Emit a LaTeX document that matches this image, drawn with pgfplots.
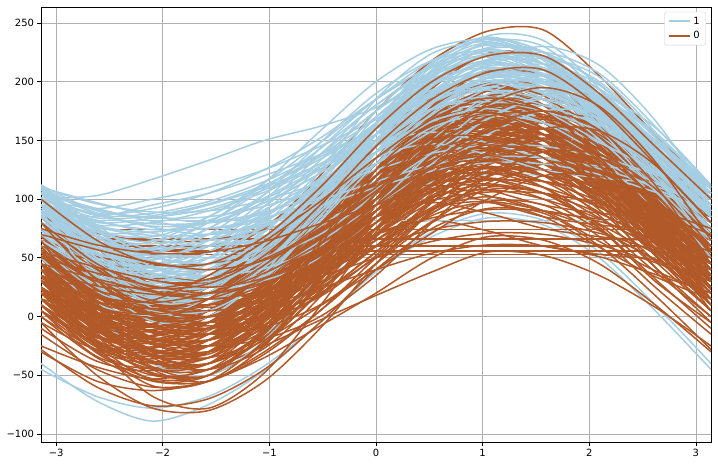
\documentclass[border=0pt]{standalone}
\usepackage{pgfplots}
\usepackage{pgfplotstable}
\pgfplotsset{compat=1.18}
\usepackage{fontspec}
\setmainfont{DejaVu Sans}
\definecolor{cblue}{HTML}{A6CEE3}
\definecolor{cbrown}{HTML}{B15928}
\definecolor{gridgray}{HTML}{B0B0B0}
\definecolor{lgray}{HTML}{CCCCCC}
\pgfplotsset{
 bl/.style={color=cblue, line width=1.5bp, smooth, forget plot},
 br/.style={color=cbrown, line width=1.5bp, smooth, forget plot},
}
% one row per curve: values at t = -pi, -5pi/6, ..., pi
\pgfplotstableread{
name p0 p1 p2 p3 p4 p5 p6 p7 p8 p9 p10 p11 p12
t -3.1416 -2.618 -2.094 -1.571 -1.047 -0.524 0 0.524 1.047 1.571 2.094 2.618 3.1416
b1 101 103 117 133 150 162 178 205 222 222 200 155 101
b2 90 49 27 30 57 101 150 191 213 210 183 139 90
b3 105 64 42 45 72 116 165 206 228 225 198 154 105
b4 95 58 32 30 57 102 145 172 178 170 153 128 95
b5 55 16 6 20 51 94 145 194 224 220 179 116 55
b6 85 53 31 25 43 87 145 195 217 205 169 125 85
b7 105 73 51 45 63 107 165 215 237 225 189 145 105
b8 85 49 43 60 86 111 135 163 189 200 182 137 85
b9 60 32 24 40 74 118 160 188 196 180 146 102 60
b10 80 52 44 60 94 138 180 208 216 200 166 122 80
b11 100 65 46 40 46 65 100 145 184 200 184 145 100
b12 75 40 20 20 47 100 165 218 238 220 175 122 75
b13 55 20 0 0 27 80 145 198 218 200 155 102 55
b14 100 43 0 -10 20 77 140 187 210 210 190 153 100
b15 -40 -72 -89 -75 -46 -5 40 72 88 82 55 10 -40
b16 -45 -68 -78 -68 -42 -5 38 68 84 78 50 5 -45
b17 15 -25 -45 -40 -15 25 75 115 135 130 100 55 15
b18 80 66 59 60 69 84 100 114 121 120 111 96 80
b19 100 68 37 30 57 102 140 152 143 130 123 118 100
b20 70 29 7 10 37 81 130 171 193 190 163 119 70
b21 75 38 12 10 37 82 125 152 158 150 133 108 75
b22 30 2 -6 10 44 88 130 158 166 150 116 72 30
b23 65 29 23 40 66 91 115 143 169 180 162 117 65
b24 70 31 21 35 66 109 160 209 239 235 194 131 70
b25 65 33 11 5 23 67 125 175 197 185 149 105 65
b26 110 88 77 80 97 122 150 172 183 180 163 138 110
b27 100 68 52 55 77 112 150 182 198 195 173 138 100
b28 60 38 42 55 67 82 110 152 188 195 163 108 60
b29 110 88 92 105 125 152 185 212 222 212 190 150 110
b30 100 92 100 110 125 145 168 192 207 205 183 142 100
b31 90 85 95 105 120 138 160 182 195 192 172 132 90
b32 40 -1 -23 -20 7 51 100 141 163 160 133 89 40
b33 60 3 -40 -50 -20 37 100 147 170 170 150 113 60
b34 80 39 17 20 47 91 140 181 203 200 173 129 80
b35 95 54 32 35 62 106 155 196 218 215 188 144 95
b36 85 48 22 20 47 92 135 162 168 160 143 118 85
b37 105 68 42 40 67 112 155 182 188 180 163 138 105
b38 65 26 16 30 61 104 155 204 234 230 189 126 65
b39 40 1 -9 5 36 79 130 179 209 205 164 101 40
b40 75 43 21 15 33 77 135 185 207 195 159 115 75
b41 95 63 41 35 53 97 155 205 227 215 179 135 95
b42 75 39 33 50 76 101 125 153 179 190 172 127 75
b43 100 64 58 75 101 126 150 178 204 215 197 152 100
b44 50 22 14 30 64 108 150 178 186 170 136 92 50
b45 70 42 34 50 84 128 170 198 206 190 156 112 70
b46 90 58 27 20 47 92 130 142 133 120 113 108 90
b47 110 78 47 40 67 112 150 162 153 140 133 128 110
b48 90 55 36 30 36 55 90 135 174 190 174 135 90
b49 110 75 56 50 56 75 110 155 194 210 194 155 110
b50 65 30 10 10 37 90 155 208 228 210 165 112 65
b51 75 48 42 50 67 92 125 162 188 190 163 118 75
b52 95 68 62 70 87 112 145 182 208 210 183 138 95
b53 110 59 17 10 47 111 170 201 203 190 173 149 110
b54 100 51 22 20 40 69 100 131 160 180 178 149 100
b55 112 63 34 32 52 81 112 143 172 192 190 161 112
b56 100 87 76 70 78 103 140 171 182 170 144 119 100
b57 110 97 86 80 88 113 150 181 192 180 154 129 110
b58 55 32 34 55 84 118 155 188 206 195 156 102 55
b59 75 52 54 75 104 138 175 208 226 215 176 122 75
b60 85 36 6 10 51 114 175 214 224 210 179 136 85
b61 100 86 79 80 89 104 120 134 141 140 131 116 100
b62 110 96 89 90 99 114 130 144 151 150 141 126 110
b63 100 39 6 10 44 91 140 183 216 230 214 167 100
b64 100 59 37 40 67 111 160 201 223 220 193 149 100
b65 87 46 24 27 54 98 147 188 210 207 180 136 87
b66 100 63 37 35 62 107 150 177 183 175 158 133 100
b67 110 73 47 45 72 117 160 187 193 185 168 143 110
b68 60 21 11 25 56 99 150 199 229 225 184 121 60
b69 50 11 1 15 46 89 140 189 219 215 174 111 50
b70 90 58 36 30 48 92 150 200 222 210 174 130 90
b71 100 68 46 40 58 102 160 210 232 220 184 140 100
b72 90 54 48 65 91 116 140 168 194 205 187 142 90
b73 110 74 68 85 111 136 160 188 214 225 207 162 110
b74 75 47 39 55 89 133 175 203 211 195 161 117 75
b75 90 62 54 70 104 148 190 218 226 210 176 132 90
b76 100 72 64 80 114 158 200 228 236 220 186 142 100
b77 95 60 41 35 41 60 95 140 179 195 179 140 95
b78 105 70 51 45 51 70 105 150 189 205 189 150 105
b79 70 35 15 15 42 95 160 213 233 215 170 117 70
b80 60 25 5 5 32 85 150 203 223 205 160 107 60
b81 85 58 52 60 77 102 135 172 198 200 173 128 85
b82 105 78 72 80 97 122 155 192 218 220 193 148 105
b83 108 59 30 28 48 77 108 139 168 188 186 157 108
b84 105 92 81 75 83 108 145 176 187 175 149 124 105
b85 95 82 71 65 73 98 135 166 177 165 139 114 95
b86 65 42 44 65 94 128 165 198 216 205 166 112 65
b87 85 62 64 85 114 148 185 218 236 225 186 132 85
b88 95 46 16 20 61 124 185 224 234 220 189 146 95
b89 90 76 69 70 79 94 110 124 131 130 121 106 90
b90 105 91 84 85 94 109 125 139 146 145 136 121 105
b91 90 29 -4 0 34 81 130 173 206 220 204 157 90
b92 100 49 7 0 37 101 160 191 193 180 163 139 100
b93 95 63 32 25 52 97 135 147 138 125 118 113 95
b94 105 73 42 35 62 107 145 157 148 135 128 123 105
b95 105 86 88 98 115 138 168 198 215 210 188 148 105
b96 95 80 84 95 110 130 155 182 200 200 180 138 95
b97 112 90 85 92 108 130 160 190 208 205 185 150 112
b98 88 72 72 82 100 125 155 185 203 200 175 130 88
b99 75 34 12 15 42 86 135 176 198 195 168 124 75
b100 90 53 27 25 52 97 140 167 173 165 148 123 90
b101 80 48 26 20 38 82 140 190 212 200 164 120 80
b102 65 37 29 45 79 123 165 193 201 185 151 107 65
b103 85 57 49 65 99 143 185 213 221 205 171 127 85
b104 90 63 57 65 82 107 140 177 203 205 178 133 90
b105 90 77 66 60 68 93 130 161 172 160 134 109 90
b106 80 57 59 80 109 143 180 213 231 220 181 127 80
b107 80 44 38 55 81 106 130 158 184 195 177 132 80
b108 85 50 31 25 31 50 85 130 169 185 169 130 85
b109 73 38 18 18 45 98 163 216 236 218 173 120 73
b110 95 81 74 75 84 99 115 129 136 135 126 111 95
b111 100 84 86 96 112 134 162 190 206 202 182 142 100
b112 92 78 80 90 106 128 155 183 200 198 176 134 92
b113 95 46 17 15 35 64 95 126 155 175 173 144 95
r1 10 -31 -53 -50 -23 21 70 111 133 130 103 59 10
r2 30 -11 -33 -30 -3 41 90 131 153 150 123 79 30
r3 50 9 -13 -10 17 61 110 151 173 170 143 99 50
r4 70 29 7 10 37 81 130 171 193 190 163 119 70
r5 35 -2 -28 -30 -3 42 85 112 118 110 93 68 35
r6 55 18 -8 -10 17 62 105 132 138 130 113 88 55
r7 75 38 12 10 37 82 125 152 158 150 133 108 75
r8 15 -22 -48 -50 -23 22 65 92 98 90 73 48 15
r9 5 -34 -44 -30 1 44 95 144 174 170 129 66 5
r10 30 -9 -19 -5 26 69 120 169 199 195 154 91 30
r11 25 -7 -29 -35 -17 27 85 135 157 145 109 65 25
r12 45 13 -9 -15 3 47 105 155 177 165 129 85 45
r13 35 -1 -7 10 36 61 85 113 139 150 132 87 35
r14 10 -26 -32 -15 11 36 60 88 114 125 107 62 10
r15 32 -25 -68 -78 -48 9 72 119 142 142 122 85 32
r16 55 -2 -45 -55 -25 32 95 142 165 165 145 108 55
r17 10 -18 -26 -10 24 68 110 138 146 130 96 52 10
r18 30 2 -6 10 44 88 130 158 166 150 116 72 30
r19 60 28 -3 -10 17 62 100 112 103 90 83 78 60
r20 30 -2 -33 -40 -13 32 70 82 73 60 53 48 30
r21 60 25 6 0 6 25 60 105 144 160 144 105 60
r22 35 0 -19 -25 -19 0 35 80 119 135 119 80 35
r23 25 -10 -30 -30 -3 50 115 168 188 170 125 72 25
r24 5 -30 -50 -50 -23 30 95 148 168 150 105 52 5
r25 110 75 55 55 75 120 175 218 243 244 205 155 110
r26 60 24 18 35 61 86 110 138 164 175 157 112 60
r27 65 33 11 5 23 67 125 175 197 185 149 105 65
r28 85 44 22 25 52 96 145 186 208 205 178 134 85
r29 -25 -43 -53 -45 -25 -3 18 38 55 52 35 8 -25
r30 -30 -55 -63 -55 -35 -8 20 50 68 65 45 10 -30
r31 -28 -60 -76 -70 -45 -5 40 75 92 88 60 18 -28
r32 -5 -50 -78 -80 -55 -10 45 90 110 105 75 30 -5
r33 95 58 32 30 57 102 145 172 178 170 153 128 95
r34 -10 -38 -46 -30 4 48 90 118 126 110 76 32 -10
r35 85 53 22 15 42 87 125 137 128 115 108 103 85
r36 55 16 6 20 51 94 145 194 224 220 179 116 55
r37 85 71 64 65 74 89 105 119 126 125 116 101 85
r38 90 68 57 60 77 102 130 152 163 160 143 118 90
r39 20 -21 -43 -40 -13 31 80 121 143 140 113 69 20
r40 40 -1 -23 -20 7 51 100 141 163 160 133 89 40
r41 60 19 -3 0 27 71 120 161 183 180 153 109 60
r42 25 -12 -38 -40 -13 32 75 102 108 100 83 58 25
r43 45 8 -18 -20 7 52 95 122 128 120 103 78 45
r44 65 28 2 0 27 72 115 142 148 140 123 98 65
r45 85 48 22 20 47 92 135 162 168 160 143 118 85
r46 15 -24 -34 -20 11 54 105 154 184 180 139 76 15
r47 40 1 -9 5 36 79 130 179 209 205 164 101 40
r48 15 -17 -39 -45 -27 17 75 125 147 135 99 55 15
r49 35 3 -19 -25 -7 37 95 145 167 155 119 75 35
r50 55 23 1 -5 13 57 115 165 187 175 139 95 55
r51 20 -16 -22 -5 21 46 70 98 124 135 117 72 20
r52 45 9 3 20 46 71 95 123 149 160 142 97 45
r53 15 -21 -27 -10 16 41 65 93 119 130 112 67 15
r54 65 8 -35 -45 -15 42 105 152 175 175 155 118 65
r55 0 -28 -36 -20 14 58 100 128 136 120 86 42 0
r56 20 -8 -16 0 34 78 120 148 156 140 106 62 20
r57 40 12 4 20 54 98 140 168 176 160 126 82 40
r58 45 13 -18 -25 2 47 85 97 88 75 68 63 45
r59 75 43 12 5 32 77 115 127 118 105 98 93 75
r60 45 10 -9 -15 -9 10 45 90 129 145 129 90 45
r61 75 40 21 15 21 40 75 120 159 175 159 120 75
r62 15 -20 -40 -40 -13 40 105 158 178 160 115 62 15
r63 35 0 -20 -20 7 60 125 178 198 180 135 82 35
r64 10 -17 -23 -15 2 27 60 97 123 125 98 53 10
r65 30 3 -3 5 22 47 80 117 143 145 118 73 30
r66 50 23 17 25 42 67 100 137 163 165 138 93 50
r67 65 38 32 40 57 82 115 152 178 180 153 108 65
r68 50 -1 -43 -50 -13 51 110 141 143 130 113 89 50
r69 70 19 -23 -30 7 71 130 161 163 150 133 109 70
r70 50 1 -28 -30 -10 19 50 81 110 130 128 99 50
r71 70 21 -8 -10 10 39 70 101 130 150 148 119 70
r72 90 41 12 10 30 59 90 121 150 170 168 139 90
r73 20 7 -4 -10 -2 23 60 91 102 90 64 39 20
r74 40 27 16 10 18 43 80 111 122 110 84 59 40
r75 60 47 36 30 38 63 100 131 142 130 104 79 60
r76 5 -18 -16 5 34 68 105 138 156 145 106 52 5
r77 25 2 4 25 54 88 125 158 176 165 126 72 25
r78 25 -24 -54 -50 -9 54 115 154 164 150 119 76 25
r79 45 -4 -34 -30 11 74 135 174 184 170 139 96 45
r80 30 16 9 10 19 34 50 64 71 70 61 46 30
r81 50 36 29 30 39 54 70 84 91 90 81 66 50
r82 65 51 44 45 54 69 85 99 106 105 96 81 65
r83 35 -26 -59 -55 -21 26 75 118 151 165 149 102 35
r84 55 -6 -39 -35 -1 46 95 138 171 185 169 122 55
r85 35 -6 -28 -25 2 46 95 136 158 155 128 84 35
r86 55 14 -8 -5 22 66 115 156 178 175 148 104 55
r87 75 34 12 15 42 86 135 176 198 195 168 124 75
r88 60 23 -3 -5 22 67 110 137 143 135 118 93 60
r89 80 43 17 15 42 87 130 157 163 155 138 113 80
r90 23 -16 -26 -12 19 62 113 162 192 188 147 84 23
r91 40 8 -14 -20 -2 42 100 150 172 160 124 80 40
r92 60 28 6 0 18 62 120 170 192 180 144 100 60
r93 30 -6 -12 5 31 56 80 108 134 145 127 82 30
r94 55 19 13 30 56 81 105 133 159 170 152 107 55
r95 45 17 9 25 59 103 145 173 181 165 131 87 45
r96 15 -13 -21 -5 29 73 115 143 151 135 101 57 15
r97 35 7 -1 15 49 93 135 163 171 155 121 77 35
r98 55 23 -8 -15 12 57 95 107 98 85 78 73 55
r99 90 58 27 20 47 92 130 142 133 120 113 108 90
r100 52 17 -2 -8 -2 17 52 97 136 152 136 97 52
r101 68 33 14 8 14 33 68 113 152 168 152 113 68
r102 23 -12 -32 -32 -5 48 113 166 186 168 123 70 23
r103 20 -7 -13 -5 12 37 70 107 133 135 108 63 20
r104 40 13 7 15 32 57 90 127 153 155 128 83 40
r105 57 30 24 32 49 74 107 144 170 172 145 100 57
r106 60 9 -33 -40 -3 61 120 151 153 140 123 99 60
r107 60 11 -18 -20 0 29 60 91 120 140 138 109 60
r108 80 31 2 0 20 49 80 111 140 160 158 129 80
r109 30 17 6 0 8 33 70 101 112 100 74 49 30
r110 50 37 26 20 28 53 90 121 132 120 94 69 50
r111 70 57 46 40 48 73 110 141 152 140 114 89 70
r112 15 -8 -6 15 44 78 115 148 166 155 116 62 15
r113 35 12 14 35 64 98 135 168 186 175 136 82 35
r114 35 -14 -44 -40 1 64 125 164 174 160 129 86 35
r115 40 26 19 20 29 44 60 74 81 80 71 56 40
r116 75 61 54 55 64 79 95 109 116 115 106 91 75
r117 45 -16 -49 -45 -11 36 85 128 161 175 159 112 45
r118 65 4 -29 -25 9 56 105 148 181 195 179 132 65
r119 100 65 45 45 68 110 160 200 222 222 190 145 100
r120 80 45 25 28 52 95 145 185 208 210 178 130 80
r121 -15 -45 -60 -55 -30 5 45 80 98 95 68 25 -15
r122 0 -35 -55 -55 -32 5 50 88 108 105 78 38 0
r123 25 -16 -38 -35 -8 36 85 126 148 145 118 74 25
r124 45 4 -18 -15 12 56 105 146 168 165 138 94 45
r125 65 24 2 5 32 76 125 166 188 185 158 114 65
r126 30 -7 -33 -35 -8 37 80 107 113 105 88 63 30
r127 50 13 -13 -15 12 57 100 127 133 125 108 83 50
r128 70 33 7 5 32 77 120 147 153 145 128 103 70
r129 30 -2 -24 -30 -12 32 90 140 162 150 114 70 30
r130 50 18 -4 -10 8 52 110 160 182 170 134 90 50
r131 25 -11 -17 0 26 51 75 103 129 140 122 77 25
r132 40 4 -2 15 41 66 90 118 144 155 137 92 40
r133 5 -23 -31 -15 19 63 105 133 141 125 91 47 5
r134 25 -3 -11 5 39 83 125 153 161 145 111 67 25
r135 65 33 2 -5 22 67 105 117 108 95 88 83 65
r136 55 20 1 -5 1 20 55 100 139 155 139 100 55
r137 25 -2 -8 0 17 42 75 112 138 140 113 68 25
r138 45 18 12 20 37 62 95 132 158 160 133 88 45
r139 40 -9 -38 -40 -20 9 40 71 100 120 118 89 40
r140 15 2 -9 -15 -7 18 55 86 97 85 59 34 15
r141 35 22 11 5 13 38 75 106 117 105 79 54 35
r142 55 42 31 25 33 58 95 126 137 125 99 74 55
r143 -5 -28 -26 -5 24 58 95 128 146 135 96 42 -5
r144 20 6 -1 0 9 24 40 54 61 60 51 36 20
r145 45 32 21 15 23 48 85 116 127 115 89 64 45
r146 10 -25 -45 -45 -18 35 100 153 173 155 110 57 10
r147 10 -29 -39 -25 6 49 100 149 179 175 134 71 10
r148 35 8 2 10 27 52 85 122 148 150 123 78 35
r149 40 3 -23 -25 2 47 90 117 123 115 98 73 40
}\rawcurves
\pgfplotstabletranspose[colnames from=name]\curves\rawcurves
\begin{document}
\begin{tikzpicture}
\useasboundingbox (-41bp,-24bp) rectangle (677bp,442bp);
\begin{axis}[
 at={(0,0)}, anchor=south west,
 scale only axis, width=670bp, height=435bp,
 xmin=-3.14159, xmax=3.14159, ymin=-106.8, ymax=263.6,
 xtick={-3,-2,-1,0,1,2,3}, xticklabels={−3,−2,−1,0,1,2,3},
 ytick={-100,-50,0,50,100,150,200,250}, yticklabels={−100,−50,0,50,100,150,200,250},
 grid=major, grid style={color=gridgray, line width=0.8bp},
 axis line style={line width=0.8bp, black},
 tick style={black, line width=0.8bp}, tick align=outside, tick pos=left, major tick length=3.5bp,
 ticklabel style={font=\fontsize{10}{12}\selectfont},
 legend style={at={(0.9925,0.989)}, anchor=north east, draw=lgray, rounded corners=2bp,
   font=\fontsize{10}{12}\selectfont, inner xsep=4bp, inner ysep=3bp, row sep=1.5bp},
 legend cell align=left,
 legend image code/.code={\draw[#1, line width=2bp] (0bp,0bp) -- (21bp,0bp);},
]
\pgfplotsinvokeforeach{1,...,32}{\addplot[bl] table[x=t,y=b#1]{\curves};}
\pgfplotsinvokeforeach{1,...,42}{\addplot[br] table[x=t,y=r#1]{\curves};}
% horizontal segments
\addplot[bl] coordinates {(-2.7,82)(2.6,82)};
\addplot[br] coordinates {(-2.5,74)(2.55,74)};
\addplot[br] coordinates {(-2.5,66)(2.5,66)};
\addplot[br] coordinates {(-2.5,60)(2.45,60)};
\addplot[br] coordinates {(-2.5,56)(2.5,56)};
\addplot[br] coordinates {(-2.5,53)(2.4,53)};
\pgfplotsinvokeforeach{33,...,63}{\addplot[bl] table[x=t,y=b#1]{\curves};}
\pgfplotsinvokeforeach{43,...,103}{\addplot[br] table[x=t,y=r#1]{\curves};}
\pgfplotsinvokeforeach{123,...,135}{\addplot[br] table[x=t,y=r#1]{\curves};}
\pgfplotsinvokeforeach{64,...,113}{\addplot[bl] table[x=t,y=b#1]{\curves};}
\pgfplotsinvokeforeach{104,...,122}{\addplot[br] table[x=t,y=r#1]{\curves};}
\pgfplotsinvokeforeach{136,...,149}{\addplot[br] table[x=t,y=r#1]{\curves};}
\addlegendimage{color=cblue}
\addlegendentry{1}
\addlegendimage{color=cbrown}
\addlegendentry{0}
\end{axis}
\end{tikzpicture}
\end{document}
